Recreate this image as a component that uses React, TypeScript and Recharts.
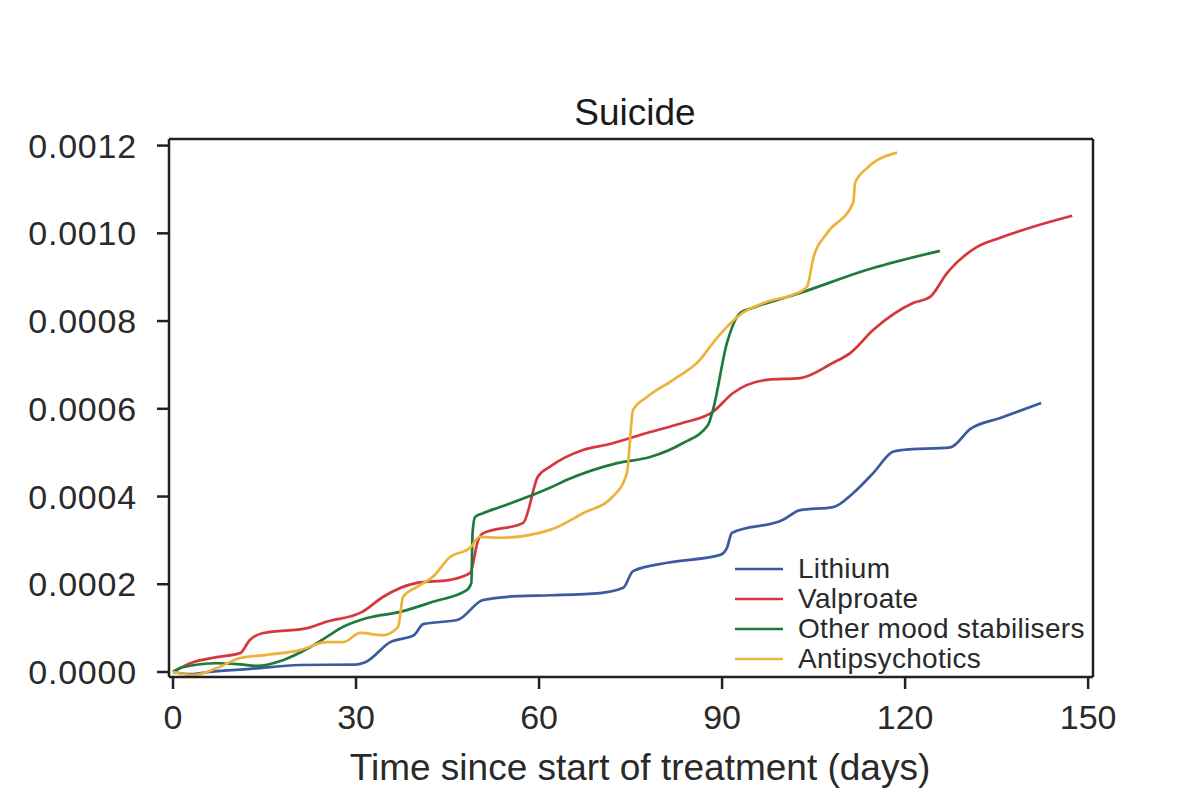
import React from 'react';
import { LineChart, Line, XAxis, YAxis, ReferenceLine, Legend } from 'recharts';

const xTicks = [0, 30, 60, 90, 120, 150];
const yTicks = [0, 0.0002, 0.0004, 0.0006, 0.0008, 0.001, 0.0012];
const X_MIN = -0.66;
const X_MAX = 150.8;
const Y_MIN = -0.0000114;
const Y_MAX = 0.001215;

const seriesNames = ['Lithium', 'Valproate', 'Other mood stabilisers', 'Antipsychotics'];
const seriesColors = ['#3a5ba0', '#d6363d', '#1f7a3c', '#ecb23a'];

const lithiumDays = [0, 3, 6, 12.6, 20.8, 30, 31.5, 35.6, 39.5, 41, 46.7, 50.8, 56.4, 62, 70, 73.8, 75.4, 81, 89.7, 90.8, 91.6, 100, 102.8, 108.2, 111.5, 114.8, 118, 119.5, 127.4, 130.7, 135.6, 142.3];
const lithiumValues = [0, -0.000005, 0, 0.000007, 0.000016, 0.000017, 0.000022, 0.000068, 0.000084, 0.000109, 0.000119, 0.000164, 0.000173, 0.000175, 0.00018, 0.000192, 0.00023, 0.000249, 0.000267, 0.000283, 0.000317, 0.000347, 0.000369, 0.000376, 0.000408, 0.000454, 0.000502, 0.000506, 0.000512, 0.000554, 0.000579, 0.000613];

const valproateDays = [0, 2.8, 7.2, 11, 12.6, 14.8, 22, 25, 31, 34.4, 40, 45.4, 48.7, 50, 50.8, 57.4, 59.8, 61.8, 67.2, 71.1, 78.2, 83.6, 88.5, 91.8, 97.4, 102.8, 108.2, 111, 114.8, 121.3, 124.1, 126.9, 131.8, 135.6, 141, 147.4];
const valproateValues = [0, 0.00002, 0.000034, 0.000043, 0.000073, 0.000089, 0.0001, 0.000114, 0.000137, 0.000171, 0.000203, 0.00021, 0.000226, 0.0003, 0.000316, 0.00034, 0.000445, 0.000468, 0.000506, 0.000518, 0.000547, 0.000568, 0.000593, 0.000636, 0.000666, 0.00067, 0.000705, 0.000727, 0.00078, 0.000841, 0.000855, 0.00091, 0.000969, 0.00099, 0.001015, 0.00104];

const otherDays = [0, 1.6, 7.2, 10.5, 13.8, 18, 22.5, 25.2, 27.9, 31.8, 37.2, 42.6, 48.2, 48.9, 49.1, 49.5, 50.8, 53.6, 61.8, 64.6, 72.8, 78.2, 83.6, 87.7, 88.5, 90.8, 93, 95, 102.8, 113.8, 125.7];
const otherValues = [0, 0.000011, 0.00002, 0.000018, 0.000014, 0.000027, 0.000057, 0.00008, 0.000103, 0.000123, 0.000137, 0.00016, 0.000187, 0.000203, 0.000317, 0.000353, 0.000362, 0.000376, 0.00042, 0.000438, 0.000476, 0.00049, 0.000522, 0.000563, 0.000597, 0.00075, 0.000819, 0.00083, 0.000864, 0.000917, 0.00096];

const antipsychoticDays = [0, 3.3, 7.2, 11, 15.4, 20.8, 25.2, 27.9, 30.7, 34.4, 36.9, 37.7, 40, 42.6, 45.4, 48.7, 50.3, 53.6, 61.8, 67.2, 72.1, 74.4, 75.4, 77.7, 82, 86.4, 88.5, 89.7, 93, 97.4, 101.6, 103.9, 105, 107.2, 111.5, 111.8, 113.8, 118.7];
const antipsychoticValues = [0, -0.000007, 0.000009, 0.000032, 0.000039, 0.00005, 0.000068, 0.000068, 0.000089, 0.000084, 0.000103, 0.000171, 0.000194, 0.000217, 0.000262, 0.000283, 0.000308, 0.000306, 0.000324, 0.000362, 0.0004, 0.000454, 0.000597, 0.000627, 0.000666, 0.000712, 0.00075, 0.00077, 0.000815, 0.000844, 0.00086, 0.000878, 0.000946, 0.001, 0.00107, 0.001115, 0.001149, 0.001184];

const toRows = (days: number[], values: number[]) => days.map((d, i) => ({ day: d, v: values[i] }));

const seriesData = [
  toRows(lithiumDays, lithiumValues),
  toRows(valproateDays, valproateValues),
  toRows(otherDays, otherValues),
  toRows(antipsychoticDays, antipsychoticValues),
];

const FONT = '"Liberation Sans", Arial, Helvetica, sans-serif';
const TEXT_COLOR = '#2a2a2a';

const renderLegend = () => (
  <svg width={400} height={130} style={{ overflow: 'visible' }}>
    {seriesNames.map((name, i) => {
      const cy = 20 + i * 30;
      return (
        <g key={name}>
          <line x1={0} x2={48} y1={cy + 1} y2={cy + 1} stroke={seriesColors[i]} strokeWidth={2.6} />
          <text x={63} y={cy} dominantBaseline="central" fontFamily={FONT} fontSize={28} fill={TEXT_COLOR} letterSpacing={0.3}>
            {name}
          </text>
        </g>
      );
    })}
  </svg>
);

export default function App() {
  const W = 1184;
  const H = 782;
  return (
    <div style={{ position: 'relative', width: W, height: H, background: '#fff' }}>
      <LineChart
        width={W}
        height={H}
        margin={{ top: 131, right: 99, bottom: 53, left: 11 }}
        style={{ fontFamily: FONT }}
      >
        <XAxis
          dataKey="day"
          type="number"
          domain={[X_MIN, X_MAX]}
          ticks={xTicks}
          allowDataOverflow
          height={60}
          tickSize={12}
          tickMargin={16}
          stroke="#222"
          strokeWidth={2.5}
          tick={{ fontSize: 34, fill: TEXT_COLOR, fontFamily: FONT }}
          tickLine={{ stroke: '#222', strokeWidth: 2.5 }}
        />
        <YAxis
          type="number"
          domain={[Y_MIN, Y_MAX]}
          ticks={yTicks}
          allowDataOverflow
          width={150}
          tickSize={12}
          tickMargin={20}
          stroke="#222"
          strokeWidth={2.5}
          tickFormatter={(v: number) => v.toFixed(4)}
          tick={{ fontSize: 34, fill: TEXT_COLOR, fontFamily: FONT, letterSpacing: 0.8 }}
          tickLine={{ stroke: '#222', strokeWidth: 2.5 }}
        />
        <ReferenceLine y={Y_MAX} stroke="#222" strokeWidth={2.5} />
        <ReferenceLine x={X_MAX} stroke="#222" strokeWidth={2.5} />
        {seriesData.map((rows, i) => (
          <Line
            key={seriesNames[i]}
            data={rows}
            dataKey="v"
            name={seriesNames[i]}
            type="monotone"
            stroke={seriesColors[i]}
            strokeWidth={2.7}
            dot={false}
            activeDot={false}
            isAnimationActive={false}
          />
        ))}
        <Legend
          layout="horizontal"
          verticalAlign="middle"
          align="center"
          content={renderLegend}
          wrapperStyle={{ position: 'absolute', left: 727, top: 540, width: 400, height: 130 }}
        />
      </LineChart>
      <svg
        width={W}
        height={H}
        style={{ position: 'absolute', left: 0, top: 0, pointerEvents: 'none' }}
      >
        <text x={627} y={117} textAnchor="middle" fontFamily={FONT} fontSize={37} fill="#1a1a1a">
          Suicide
        </text>
        <text x={632} y={772} textAnchor="middle" fontFamily={FONT} fontSize={37} fill={TEXT_COLOR}>
          Time since start of treatment (days)
        </text>
      </svg>
    </div>
  );
}
